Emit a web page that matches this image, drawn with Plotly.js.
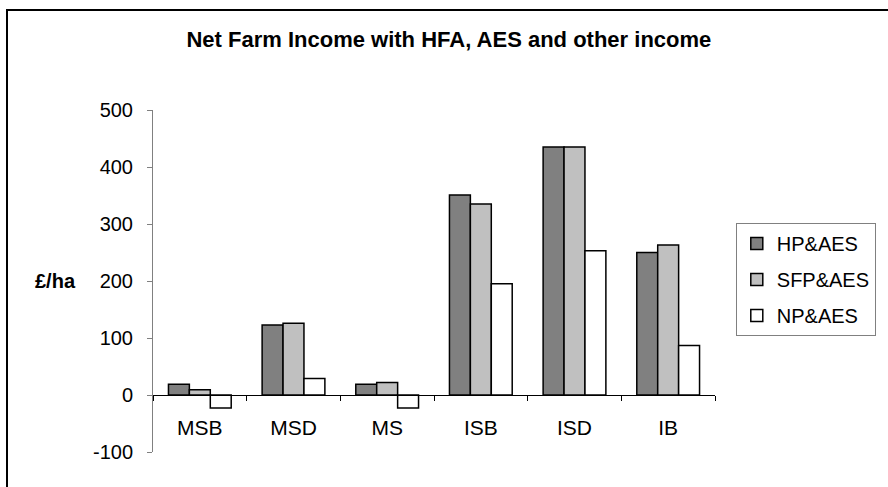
<!DOCTYPE html>
<html>
<head>
<meta charset="utf-8">
<script src="https://cdn.plot.ly/plotly-3.0.1.min.js"></script>
<style>
  html, body { margin: 0; padding: 0; background: #fff; }
  #wrap { position: relative; width: 888px; height: 487px; overflow: hidden; }
  #chart { position: absolute; left: 0; top: 0; width: 888px; height: 487px; }
  #frame { position: absolute; left: 6px; top: 9px; right: -5px; bottom: -5px;
           border-left: 2px solid #000; border-top: 2px solid #000; pointer-events: none; }
</style>
</head>
<body>
<div id="wrap">
  <div id="chart"></div>
  <div id="frame"></div>
</div>
<script>
const categories = ['MSB', 'MSD', 'MS', 'ISB', 'ISD', 'IB'];
const seriesNames = ['HP&AES', 'SFP&AES', 'NP&AES'];
const hpAes  = [19, 123, 19, 351, 435, 250];
const sfpAes = [9, 126, 22, 335, 435, 263];
const npAes  = [-23, 29, -23, 195, 253, 87];
const yTicks = [-100, 0, 100, 200, 300, 400, 500];

const colors = ['#808080', '#C0C0C0', '#FFFFFF'];
const values = [hpAes, sfpAes, npAes];
const font = 'Liberation Sans, Arial, sans-serif';

const traces = values.map((v, i) => ({
  type: 'bar',
  name: seriesNames[i],
  x: categories,
  y: v,
  legendgroup: 'g' + i,
  marker: { color: colors[i], line: { color: '#000', width: 1.5 } },
  hoverinfo: 'x+y+name'
}));

const layout = {
  width: 888, height: 487,
  paper_bgcolor: '#fff', plot_bgcolor: '#fff',
  margin: { l: 153, r: 169, t: 110, b: 35, pad: 0 },
  font: { family: font, color: '#000', size: 20 },
  title: {
    text: '<b>Net Farm Income with HFA, AES and other income</b>',
    font: { family: font, size: 22, color: '#000' },
    xref: 'paper', x: 0.5265, xanchor: 'center',
    yref: 'container', y: 0.92, yanchor: 'middle'
  },
  barmode: 'group',
  bargap: 0.33,
  bargroupgap: 0,
  showlegend: true,
  legend: {
    x: 1.037, y: 0.6696, xanchor: 'left', yanchor: 'top',
    bordercolor: '#808080', borderwidth: 1, bgcolor: '#fff',
    font: { family: font, size: 20, color: '#000' },
    traceorder: 'grouped', tracegroupgap: 7
  },
  xaxis: {
    type: 'category',
    anchor: 'free', position: 1/6,
    showline: true, linecolor: '#000', linewidth: 1,
    ticks: 'outside', tickson: 'boundaries', ticklen: 5, tickcolor: '#000',
    ticklabelstandoff: 14,
    tickfont: { family: font, size: 21, color: '#000' },
    showgrid: false, zeroline: false, fixedrange: true
  },
  yaxis: {
    range: [-100, 500],
    tickvals: yTicks,
    ticktext: yTicks.map(String),
    showline: true, linecolor: '#808080', linewidth: 1,
    ticks: 'outside', ticklen: 5, tickcolor: '#808080',
    ticklabelstandoff: 10,
    tickfont: { family: font, size: 20, color: '#000' },
    showgrid: false, zeroline: false, fixedrange: true
  },
  annotations: [{
    text: '<b>£/ha</b>',
    xref: 'paper', x: -0.173, xanchor: 'center',
    yref: 'y', y: 200, yanchor: 'middle',
    showarrow: false,
    font: { family: font, size: 20, color: '#000' }
  }]
};

Plotly.newPlot('chart', traces, layout, { displayModeBar: false, staticPlot: true });
</script>
</body>
</html>
